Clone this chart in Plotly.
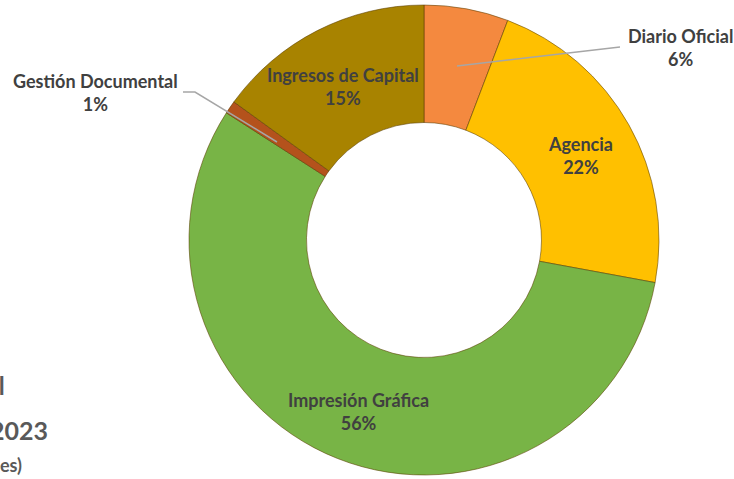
import plotly.graph_objects as go

labels = ["Diario Oficial", "Agencia", "Impresión Gráfica", "Gestión Documental", "Ingresos de Capital"]
values = [5.8, 22.1, 56.2, 0.9, 15.0]
colors = ["#F4893F", "#FFC000", "#78B446", "#B4521C", "#A88300"]
pct_labels = ["6%", "22%", "56%", "1%", "15%"]

W, H = 734, 479

def px(x):
    return x / W

def py(y):
    return 1 - y / H

cx, cy, r = 424, 240, 235

fig = go.Figure(go.Pie(
    labels=labels,
    values=values,
    sort=False,
    direction="clockwise",
    rotation=0,
    hole=0.5,
    marker=dict(colors=colors, line=dict(color="rgba(90,60,0,0.55)", width=1)),
    textinfo="none",
    hoverinfo="label+percent",
    domain=dict(x=[px(cx - r), px(cx + r)], y=[py(cy + r), py(cy - r)]),
    showlegend=False,
))

label_pos = {
    "Diario Oficial": (680, 48),
    "Agencia": (580, 155),
    "Impresión Gráfica": (358, 411),
    "Gestión Documental": (95, 92),
    "Ingresos de Capital": (343, 86),
}

font = dict(family="Lato, 'Open Sans', sans-serif", size=18, color="#404040", weight="bold")
annotations = []
for lab, pct in zip(labels, pct_labels):
    x, y = label_pos[lab]
    annotations.append(dict(
        x=px(x), y=py(y), xref="paper", yref="paper",
        text=f"{lab}<br>{pct}", showarrow=False,
        font=font, align="center", xanchor="center", yanchor="middle",
    ))

# cut-off title at the bottom-left (the reference shows only its right end)
title_lines = [("Ingresos Total", 24, 7, 385), ("Periodo 2023", 25, 50, 430), ("(millones de colones)", 18, 24, 465)]
for t, sz, xr, yc in title_lines:
    annotations.append(dict(
        x=px(xr), y=py(yc), xref="paper", yref="paper",
        text=t, showarrow=False,
        font=dict(family="Lato, 'Open Sans', sans-serif", size=sz, color="#595959", weight="bold"),
        xanchor="right", yanchor="middle",
    ))

shapes = [
    dict(type="line", xref="paper", yref="paper",
         x0=px(457), y0=py(66), x1=px(620), y1=py(47),
         line=dict(color="#A6A6A6", width=1.5)),
    dict(type="path", xref="paper", yref="paper",
         path=f"M {px(183)},{py(92)} L {px(195)},{py(92)} L {px(277)},{py(142)}",
         line=dict(color="#A6A6A6", width=1.5)),
]

fig.update_layout(
    width=W, height=H,
    margin=dict(l=0, r=0, t=0, b=0),
    paper_bgcolor="white", plot_bgcolor="white",
    annotations=annotations,
    shapes=shapes,
)

fig.write_html("out.html", config={"displayModeBar": False},
               post_script="document.body.style.margin='0';document.body.style.overflow='hidden';")
